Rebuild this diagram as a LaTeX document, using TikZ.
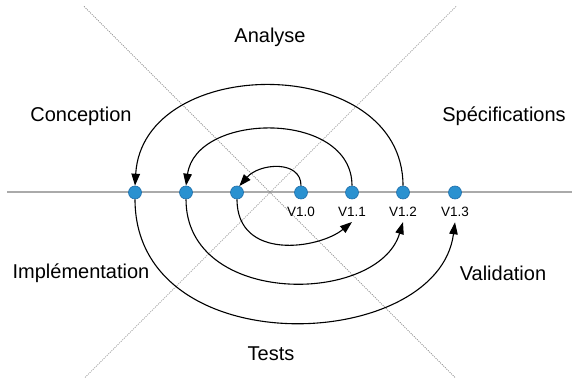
\documentclass[tikz,border=0pt]{standalone}
\usepackage{fontspec}
\setmainfont{Liberation Sans}
\usepackage{tikz}
\usetikzlibrary{arrows.meta, positioning}
\definecolor{dotblue}{RGB}{42, 145, 208}
\definecolor{dotborder}{RGB}{30, 110, 170}
\definecolor{axisgray}{RGB}{170, 170, 170}
\definecolor{diaggray}{RGB}{125, 125, 125}

\begin{document}
\begin{tikzpicture}[
    x=1pt, y=1pt,
    iter/.style={circle, draw=dotborder, fill=dotblue, line width=0.6pt, minimum size=13pt, inner sep=0pt},
    verlabel/.style={font=\fontsize{13.5}{16}\selectfont, inner xsep=1pt, inner ysep=5pt},
    phase/.style={font=\fontsize{20}{24}\selectfont},
    flow/.style={-{Triangle[length=12pt, width=8.5pt]}, line width=1.1pt, black},
    diag/.style={diaggray, line width=0.7pt, dash pattern=on 1pt off 1.2pt}
]
    \useasboundingbox (0,0) rectangle (572,377);

    % Time axis and the two diagonals splitting the phases
    \draw[axisgray, line width=2pt] (7,184.5) -- (572,184.5);
    \coordinate (mid) at (270,184.5);
    \draw[diag] (mid) ++(-186,186) -- ++(372,-372);
    \draw[diag] (mid) ++(186,186) -- ++(-372,-372);

    % Phases
    \node[phase] (analyse) at (270,340) {Analyse};
    \node[phase] (spec) at (504,261) {Spécifications};
    \node[phase] (concep) at (81,261) {Conception};
    \node[phase] (impl) at (81,104) {Implémentation};
    \node[phase] (valid) at (503,104) {Validation};
    \node[phase] (tests) at (271,23) {Tests};

    % Iterations on the axis
    \node[iter] (g1) at (135,184.5) {};
    \node[iter] (g2) at (186,184.5) {};
    \node[iter] (g3) at (237,184.5) {};
    \node[iter] (v10) at (301,184.5) {};
    \node[iter] (v11) at (352,184.5) {};
    \node[iter] (v12) at (403,184.5) {};
    \node[iter] (v13) at (455,184.5) {};

    \node[verlabel, below=3pt of v10] (t10) {V1.0};
    \node[verlabel, below=3pt of v11] (t11) {V1.1};
    \node[verlabel, below=3pt of v12] (t12) {V1.2};
    \node[verlabel, below=3pt of v13] (t13) {V1.3};

    % Upper half: back to the left
    \draw[flow] (v10.north) .. controls +(0,26) and +(20,23) .. (g3.70);
    \draw[flow] (v11.north) .. controls +(0,76) and +(10,74) .. (g2.north);
    \draw[flow] (v12.north) .. controls +(0,133) and +(8,133) .. (g1.north);

    % Lower half: on to the next version
    \draw[flow] (g3.south) .. controls +(0,-62) and +(-33,-27) .. (t11.south);
    \draw[flow] (g2.south) .. controls +(0,-108) and +(-25,-83) .. (t12.south);
    \draw[flow] (g1.south) .. controls +(0,-166) and +(-17,-131) .. (t13.south);
\end{tikzpicture}
\end{document}
